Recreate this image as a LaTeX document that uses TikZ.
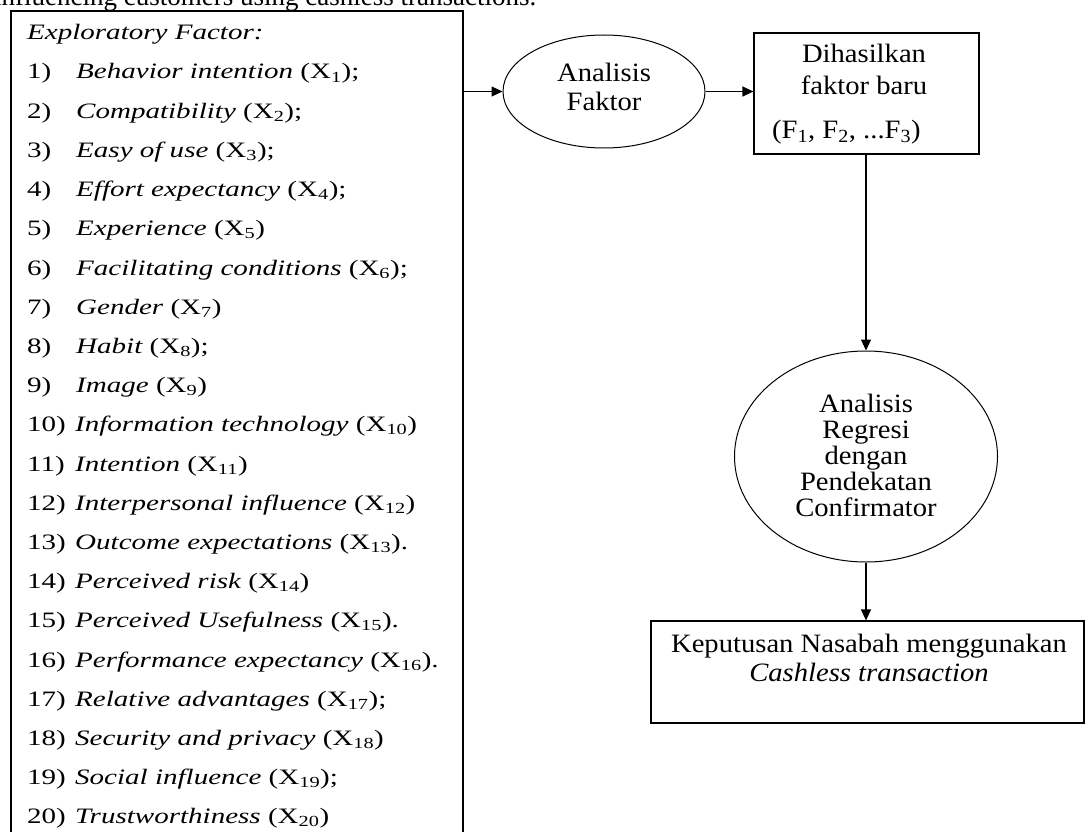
\documentclass[tikz,border=0pt]{standalone}
\usepackage{fontspec}
\setmainfont{Liberation Serif}
\newfontfamily\lfont[FakeStretch=1.32]{Liberation Serif}
\newfontfamily\rfont[FakeStretch=1.08]{Liberation Serif}
\usetikzlibrary{arrows.meta,shapes.geometric}
\begin{document}
\begin{tikzpicture}[x=1pt,y=-1pt,
  box/.style={draw, line width=1.2pt, inner sep=0pt},
  oval/.style={draw, ellipse, line width=1pt, inner sep=0pt},
  arr/.style={line width=1.2pt, -{Triangle[length=11pt,width=10pt]}},
  rtext/.style={font=\rfont\fontsize{26.5}{29}\selectfont, inner sep=0pt, align=center},
  ltext/.style={font=\lfont\fontsize{22}{26}\selectfont, inner sep=0pt, anchor=base west},
]
\useasboundingbox (0,0) rectangle (1090,832);
\clip (0,0) rectangle (1090,832);
\fill[white] (0,0) rectangle (1090,832);

\node[font=\fontsize{27}{30}\selectfont, inner sep=0pt, anchor=base west] (title) at (-6,6) {influencing customers using cashless transactions.};

% left box
\node[box, line width=1.7pt, anchor=north west, minimum width=452pt, minimum height=860pt] (lbox) at (10,10) {};
\node[ltext] (head) at (27,40) {\itshape Exploratory Factor:};

\node[ltext] (n1) at (27,79.0) {1)};
\node[ltext] (t1) at (76,79.0) {\itshape Behavior intention \upshape(X\textsubscript{1});};
\node[ltext] (n2) at (27,118.2) {2)};
\node[ltext] (t2) at (76,118.2) {\itshape Compatibility \upshape(X\textsubscript{2});};
\node[ltext] (n3) at (27,157.4) {3)};
\node[ltext] (t3) at (76,157.4) {\itshape Easy of use \upshape(X\textsubscript{3});};
\node[ltext] (n4) at (27,196.6) {4)};
\node[ltext] (t4) at (76,196.6) {\itshape Effort expectancy \upshape(X\textsubscript{4});};
\node[ltext] (n5) at (27,235.8) {5)};
\node[ltext] (t5) at (76,235.8) {\itshape Experience \upshape(X\textsubscript{5})};
\node[ltext] (n6) at (27,275.0) {6)};
\node[ltext] (t6) at (76,275.0) {\itshape Facilitating conditions \upshape(X\textsubscript{6});};
\node[ltext] (n7) at (27,314.2) {7)};
\node[ltext] (t7) at (76,314.2) {\itshape Gender \upshape(X\textsubscript{7})};
\node[ltext] (n8) at (27,353.4) {8)};
\node[ltext] (t8) at (76,353.4) {\itshape Habit \upshape(X\textsubscript{8});};
\node[ltext] (n9) at (27,392.6) {9)};
\node[ltext] (t9) at (76,392.6) {\itshape Image \upshape(X\textsubscript{9})};
\node[ltext] (n10) at (27,431.8) {10)};
\node[ltext] (t10) at (75,431.8) {\itshape Information technology \upshape(X\textsubscript{10})};
\node[ltext] (n11) at (27,471.0) {11)};
\node[ltext] (t11) at (75,471.0) {\itshape Intention \upshape(X\textsubscript{11})};
\node[ltext] (n12) at (27,510.2) {12)};
\node[ltext] (t12) at (75,510.2) {\itshape Interpersonal influence \upshape(X\textsubscript{12})};
\node[ltext] (n13) at (27,549.4) {13)};
\node[ltext] (t13) at (75,549.4) {\itshape Outcome expectations \upshape(X\textsubscript{13}).};
\node[ltext] (n14) at (27,588.6) {14)};
\node[ltext] (t14) at (75,588.6) {\itshape Perceived risk \upshape(X\textsubscript{14})};
\node[ltext] (n15) at (27,627.8) {15)};
\node[ltext] (t15) at (75,627.8) {\itshape Perceived Usefulness \upshape(X\textsubscript{15}).};
\node[ltext] (n16) at (27,667.0) {16)};
\node[ltext] (t16) at (75,667.0) {\itshape Performance expectancy \upshape(X\textsubscript{16}).};
\node[ltext] (n17) at (27,706.2) {17)};
\node[ltext] (t17) at (75,706.2) {\itshape Relative advantages \upshape(X\textsubscript{17});};
\node[ltext] (n18) at (27,745.4) {18)};
\node[ltext] (t18) at (75,745.4) {\itshape Security and privacy \upshape(X\textsubscript{18})};
\node[ltext] (n19) at (27,784.6) {19)};
\node[ltext] (t19) at (75,784.6) {\itshape Social influence \upshape(X\textsubscript{19});};
\node[ltext] (n20) at (27,823.8) {20)};
\node[ltext] (t20) at (75,823.8) {\itshape Trustworthiness \upshape(X\textsubscript{20})};

% right side
\node[oval, minimum width=202pt, minimum height=113pt] (fa) at (604,91.5) {};
\node[rtext] (fat) at (604,87) {Analisis\\Faktor};

\node[box, minimum width=225pt, minimum height=121pt] (fb) at (866.5,93.5) {};
\node[rtext, font=\rfont\fontsize{26.5}{32}\selectfont] (fbt) at (864,69) {Dihasilkan\\faktor baru};
\node[rtext, anchor=west] (fbf) at (772,132) {(F\textsubscript{1}, F\textsubscript{2}, ...F\textsubscript{3})};

\node[oval, minimum width=263pt, minimum height=211pt] (fr) at (866,456.5) {};
\node[rtext, font=\rfont\fontsize{26.5}{26}\selectfont] (frt) at (866,455) {Analisis\\Regresi\\dengan\\Pendekatan\\Confirmator};

\node[box, minimum width=433pt, minimum height=102pt] (fk) at (867.5,672) {};
\node[rtext] (fkt) at (869,657.5) {Keputusan Nasabah menggunakan\\\textit{Cashless transaction}};

% connectors
\draw[arr] (lbox.east |- fa.west) -- (fa.west);
\draw[arr] (fa.east) -- (fb.west |- fa.east);
\draw[arr] (fb.south -| fr.north) -- (fr.north);
\draw[arr] (fr.south) -- (fk.north -| fr.south);
\end{tikzpicture}
\end{document}
